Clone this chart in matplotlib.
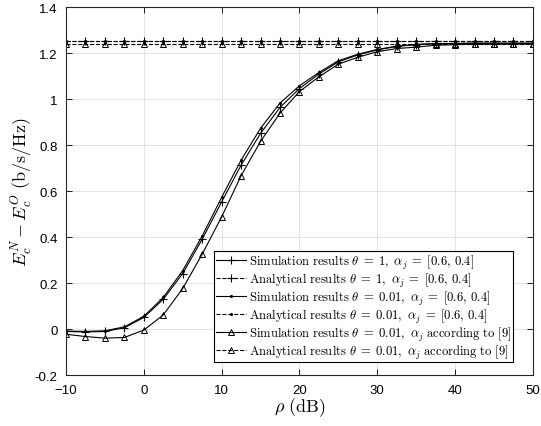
import numpy as np
import matplotlib
matplotlib.use('Agg')
import matplotlib.pyplot as plt

plt.rcParams['mathtext.fontset'] = 'cm'
plt.rcParams['font.family'] = ['Liberation Sans', 'DejaVu Sans']

# DATA
rho_db = [-10, -7.5, -5, -2.5, 0, 2.5, 5, 7.5, 10, 12.5, 15, 17.5, 20, 22.5, 25,
          27.5, 30, 32.5, 35, 37.5, 40, 42.5, 45, 47.5, 50]

sim_theta1 = [-0.010, -0.012, -0.010, 0.006, 0.051, 0.130, 0.242, 0.391, 0.553, 0.713,
              0.851, 0.964, 1.046, 1.109, 1.162, 1.192, 1.214, 1.229, 1.237, 1.241,
              1.242, 1.243, 1.243, 1.243, 1.243]
ana_theta1 = [1.252] * 25
sim_theta001 = [-0.008, -0.010, -0.007, 0.010, 0.056, 0.138, 0.255, 0.405, 0.573, 0.735,
                0.873, 0.983, 1.058, 1.116, 1.167, 1.195, 1.216, 1.230, 1.238, 1.241,
                1.242, 1.243, 1.243, 1.243, 1.243]
ana_theta001 = [1.252] * 25
sim_ref9 = [-0.022, -0.032, -0.039, -0.036, -0.004, 0.062, 0.177, 0.326, 0.488, 0.667,
            0.816, 0.939, 1.033, 1.097, 1.152, 1.182, 1.206, 1.220, 1.226, 1.234,
            1.237, 1.238, 1.239, 1.239, 1.239]
ana_ref9 = [1.238] * 25

labels = [
    r'$\mathrm{Simulation\ results}\ \theta\;=\;1,\ \alpha_j\;=\;[0.6,\,0.4]$',
    r'$\mathrm{Analytical\ results}\ \theta\;=\;1,\ \alpha_j\;=\;[0.6,\,0.4]$',
    r'$\mathrm{Simulation\ results}\ \theta\;=\;0.01,\ \alpha_j\;=\;[0.6,\,0.4]$',
    r'$\mathrm{Analytical\ results}\ \theta\;=\;0.01,\ \alpha_j\;=\;[0.6,\,0.4]$',
    r'$\mathrm{Simulation\ results}\ \theta\;=\;0.01,\ \alpha_j\ \mathrm{according\ to\ [9]}$',
    r'$\mathrm{Analytical\ results}\ \theta\;=\;0.01,\ \alpha_j\ \mathrm{according\ to\ [9]}$',
]

# PLOT
fig = plt.figure(figsize=(5.41, 4.27), dpi=100)
ax = fig.add_axes([0.122, 0.119, 0.863, 0.862])

lw = 0.8
ax.plot(rho_db, sim_theta1, '-', color='k', lw=lw, marker='+', ms=6, mew=0.8, label=labels[0])
ax.plot(rho_db, ana_theta1, '--', color='k', lw=lw, marker='+', ms=6, mew=0.8, label=labels[1])
ax.plot(rho_db, sim_theta001, '-', color='k', lw=lw, marker='.', ms=2.5, label=labels[2])
ax.plot(rho_db, ana_theta001, '--', color='k', lw=lw, marker='.', ms=2.5, label=labels[3])
ax.plot(rho_db, sim_ref9, '-', color='k', lw=lw, marker='^', ms=5, mfc='none', mew=0.7, label=labels[4])
ax.plot(rho_db, ana_ref9, '--', color='k', lw=lw, marker='^', ms=5, mfc='none', mew=0.7, label=labels[5])

ax.set_xlim(-10, 50)
ax.set_ylim(-0.2, 1.4)
ax.set_xticks(np.arange(-10, 51, 10))
ax.set_yticks(np.arange(-0.2, 1.41, 0.2))
ax.set_yticklabels(['-0.2', '0', '0.2', '0.4', '0.6', '0.8', '1', '1.2', '1.4'])
ax.grid(True, color='#e3e3e3', lw=0.7)
ax.set_axisbelow(True)
ax.tick_params(direction='in', top=True, right=True, labelsize=9.5, length=4, width=0.6, pad=6)
for s in ax.spines.values():
    s.set_linewidth(0.8)
    s.set_color('#262626')

ax.set_xlabel(r'$\rho\ \mathrm{(dB)}$', fontsize=13, labelpad=0)
ax.set_ylabel(r'$E_c^N - E_c^O\ \mathrm{(b/s/Hz)}$', fontsize=13, labelpad=0)

leg = ax.legend(loc='lower right', bbox_to_anchor=(0.957, 0.035), fontsize=9.1,
                frameon=True, fancybox=False, edgecolor='k', framealpha=1,
                handlelength=2.4, handletextpad=0.25, borderpad=0.1, labelspacing=0.0,
                borderaxespad=0)
leg.get_frame().set_linewidth(0.8)

fig.savefig('out.png', dpi=100)
